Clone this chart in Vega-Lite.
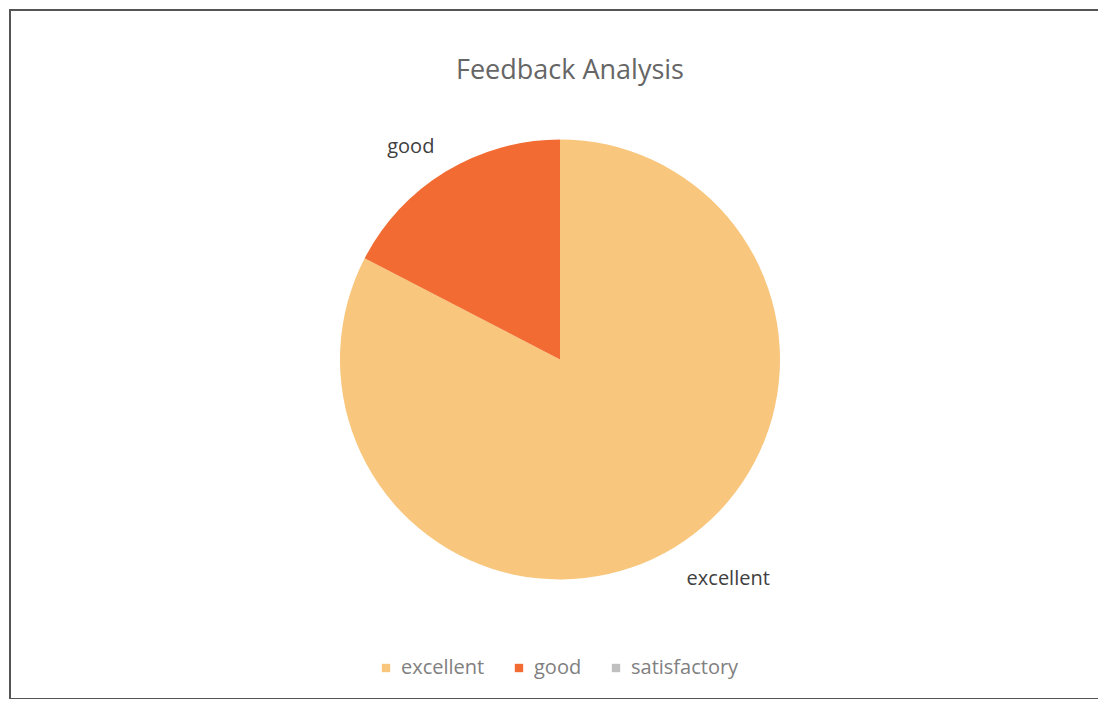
{
  "$schema": "https://vega.github.io/schema/vega-lite/v6.json",
  "autosize": "none",
  "width": 1110,
  "height": 689,
  "padding": {"left": 10, "top": 10, "right": 0, "bottom": 0},
  "background": "white",
  "config": {
    "view": {"stroke": null},
    "font": "Open Sans"
  },
  "title": {
    "text": "Feedback Analysis",
    "orient": "top",
    "anchor": "middle",
    "frame": "group",
    "baseline": "middle",
    "offset": -89,
    "dx": 5,
    "fontSize": 27,
    "fontWeight": "normal",
    "color": "#666666",
    "font": "Open Sans"
  },
  "data": {
    "values": [
      {"rating": "excellent", "count": 19},
      {"rating": "good", "count": 4},
      {"rating": "satisfactory", "count": 0}
    ]
  },
  "layer": [
    {
      "data": {"values": [{"frame": "border"}]},
      "mark": {"type": "rect", "fill": null, "stroke": "#555555", "strokeWidth": 2},
      "encoding": {}
    },
    {
      "mark": {"type": "arc", "radius": 220, "xOffset": -5, "yOffset": 5},
      "encoding": {
        "theta": {"field": "count", "type": "quantitative", "stack": true},
        "color": {
          "field": "rating",
          "type": "nominal",
          "scale": {
            "domain": ["excellent", "good", "satisfactory"],
            "range": ["#F8C67C", "#F26B32", "#BFBFBF"]
          },
          "legend": {
            "title": null,
            "orient": "none",
            "direction": "horizontal",
            "legendX": 366,
            "legendY": 648,
            "symbolType": "square",
            "symbolSize": 70,
            "labelFontSize": 20,
            "labelColor": "#808080",
            "labelFont": "Open Sans",
            "columnPadding": 24,
            "labelOffset": 5
          }
        }
      }
    },
    {
      "transform": [{"filter": "datum.count > 0"}],
      "mark": {
        "type": "text",
        "radius": 266,
        "xOffset": -5,
        "yOffset": 5,
        "fontSize": 20,
        "font": "Open Sans",
        "dx": {"expr": "datum.rating === 'good' ? -11 : 30"},
        "dy": {"expr": "datum.rating === 'good' ? 15 : -8"}
      },
      "encoding": {
        "theta": {"field": "count", "type": "quantitative", "stack": true},
        "text": {"field": "rating", "type": "nominal"},
        "color": {"value": "#404040"}
      }
    }
  ]
}
